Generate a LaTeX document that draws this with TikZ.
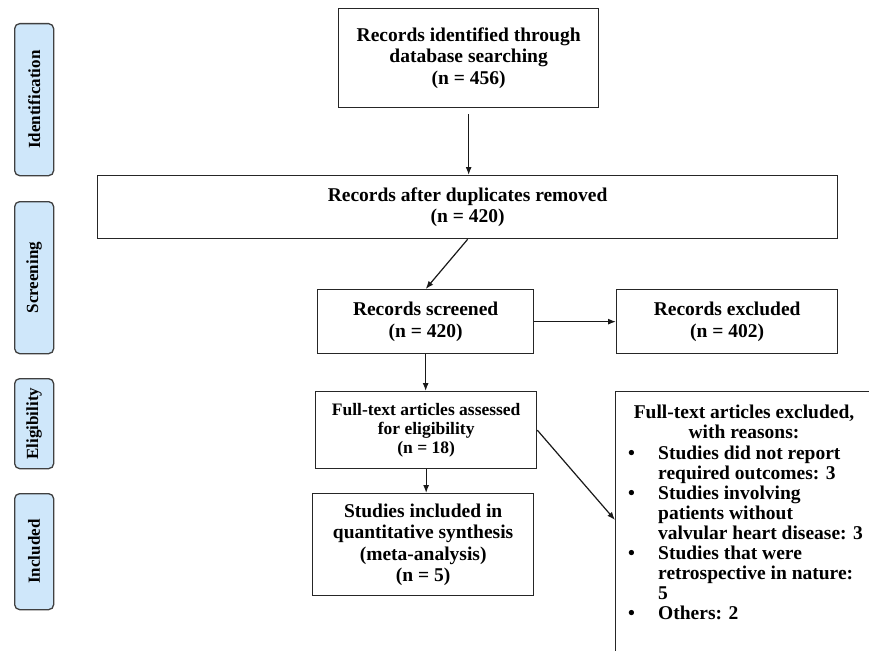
\documentclass[tikz,border=0pt]{standalone}
\usepackage{fontspec}
\usepackage{graphicx}
\setmainfont{Liberation Serif}
\usetikzlibrary{arrows.meta,calc}
\definecolor{sidefill}{RGB}{207,231,250}
\begin{document}
\begin{tikzpicture}[x=1pt,y=-1pt,
  box/.style={draw=black!85, line width=1.3pt, fill=white, align=center,
    font=\fontsize{19.5}{21.5}\selectfont\bfseries, inner sep=0pt, anchor=north west},
  side/.style={draw=black!75, line width=1.3pt, fill=sidefill, rounded corners=5pt,
    anchor=north west, inner sep=0pt, minimum width=39pt,
    font=\fontsize{17}{17}\selectfont\bfseries},
  arr/.style={-{Latex[length=8pt,width=6pt]}, line width=1.2pt, draw=black!90},
  listtext/.style={font=\fontsize{19.5}{20}\selectfont\bfseries, inner sep=0pt}]
\path[use as bounding box, clip] (0,0) rectangle (869,650);
\fill[white] (0,0) rectangle (869,650);

% side labels
\node[side, minimum height=152pt] (sident) at (14,23) {\rotatebox{90}{Identification}};
\node[side, minimum height=152pt] (sscr) at (14,201) {\rotatebox{90}{Screening}};
\node[side, minimum height=90pt] (selig) at (14,378) {\rotatebox{90}{Eligibility}};
\node[side, minimum height=116pt] (sincl) at (14,493) {\rotatebox{90}{Included}};

% main boxes
\node[box, minimum width=260pt, minimum height=99pt] (ident) at (338,8)
  {Records identified through\\database searching\\(n = 456)};
\node[box, minimum width=740pt, minimum height=63pt] (dup) at (97,175)
  {Records after duplicates removed\\(n = 420)};
\node[box, minimum width=216pt, minimum height=64pt] (scr) at (317,289)
  {Records screened\\(n = 420)};
\node[box, minimum width=221pt, minimum height=64pt] (exc) at (616,289)
  {Records excluded\\(n = 402)};
\node[box, minimum width=221pt, minimum height=77pt,
  font=\fontsize{17.5}{19}\selectfont\bfseries] (ft) at (315,391)
  {Full-text articles assessed\\for eligibility\\(n = 18)};
\node[box, minimum width=221pt, minimum height=102pt] (inc) at (312,493)
  {Studies included in\\quantitative synthesis\\(meta-analysis)\\(n = 5)};
\node[box, minimum width=300pt, minimum height=300pt] (ftex) at (615,391) {};
\node[listtext, align=center] (ftextitle) at (744,422)
  {Full-text articles excluded,\\with reasons:};
\node[listtext, align=left, anchor=north west] (ftexlist) at (628,446)
  {\makebox[30pt][l]{•}Studies did not report\\
   \hspace*{30pt}required outcomes: 3\\
   \makebox[30pt][l]{•}Studies involving\\
   \hspace*{30pt}patients without\\
   \hspace*{30pt}valvular heart disease: 3\\
   \makebox[30pt][l]{•}Studies that were\\
   \hspace*{30pt}retrospective in nature:\\
   \hspace*{30pt}5\\
   \makebox[30pt][l]{•}Others: 2};

% connectors
\draw[arr, shorten <=6pt] (ident.south) -- (ident.south |- dup.north);
\draw[arr] (dup.south) -- (scr.north);
\draw[arr] (scr.east) -- (exc.west);
\draw[arr] (scr.south) -- (scr.south |- ft.north);
\draw[arr] (ft.south) -- (ft.south |- inc.north);
\coordinate (ftexin) at (615,520);
\draw[arr] (ft.east) -- (ftexin);
\end{tikzpicture}
\end{document}
